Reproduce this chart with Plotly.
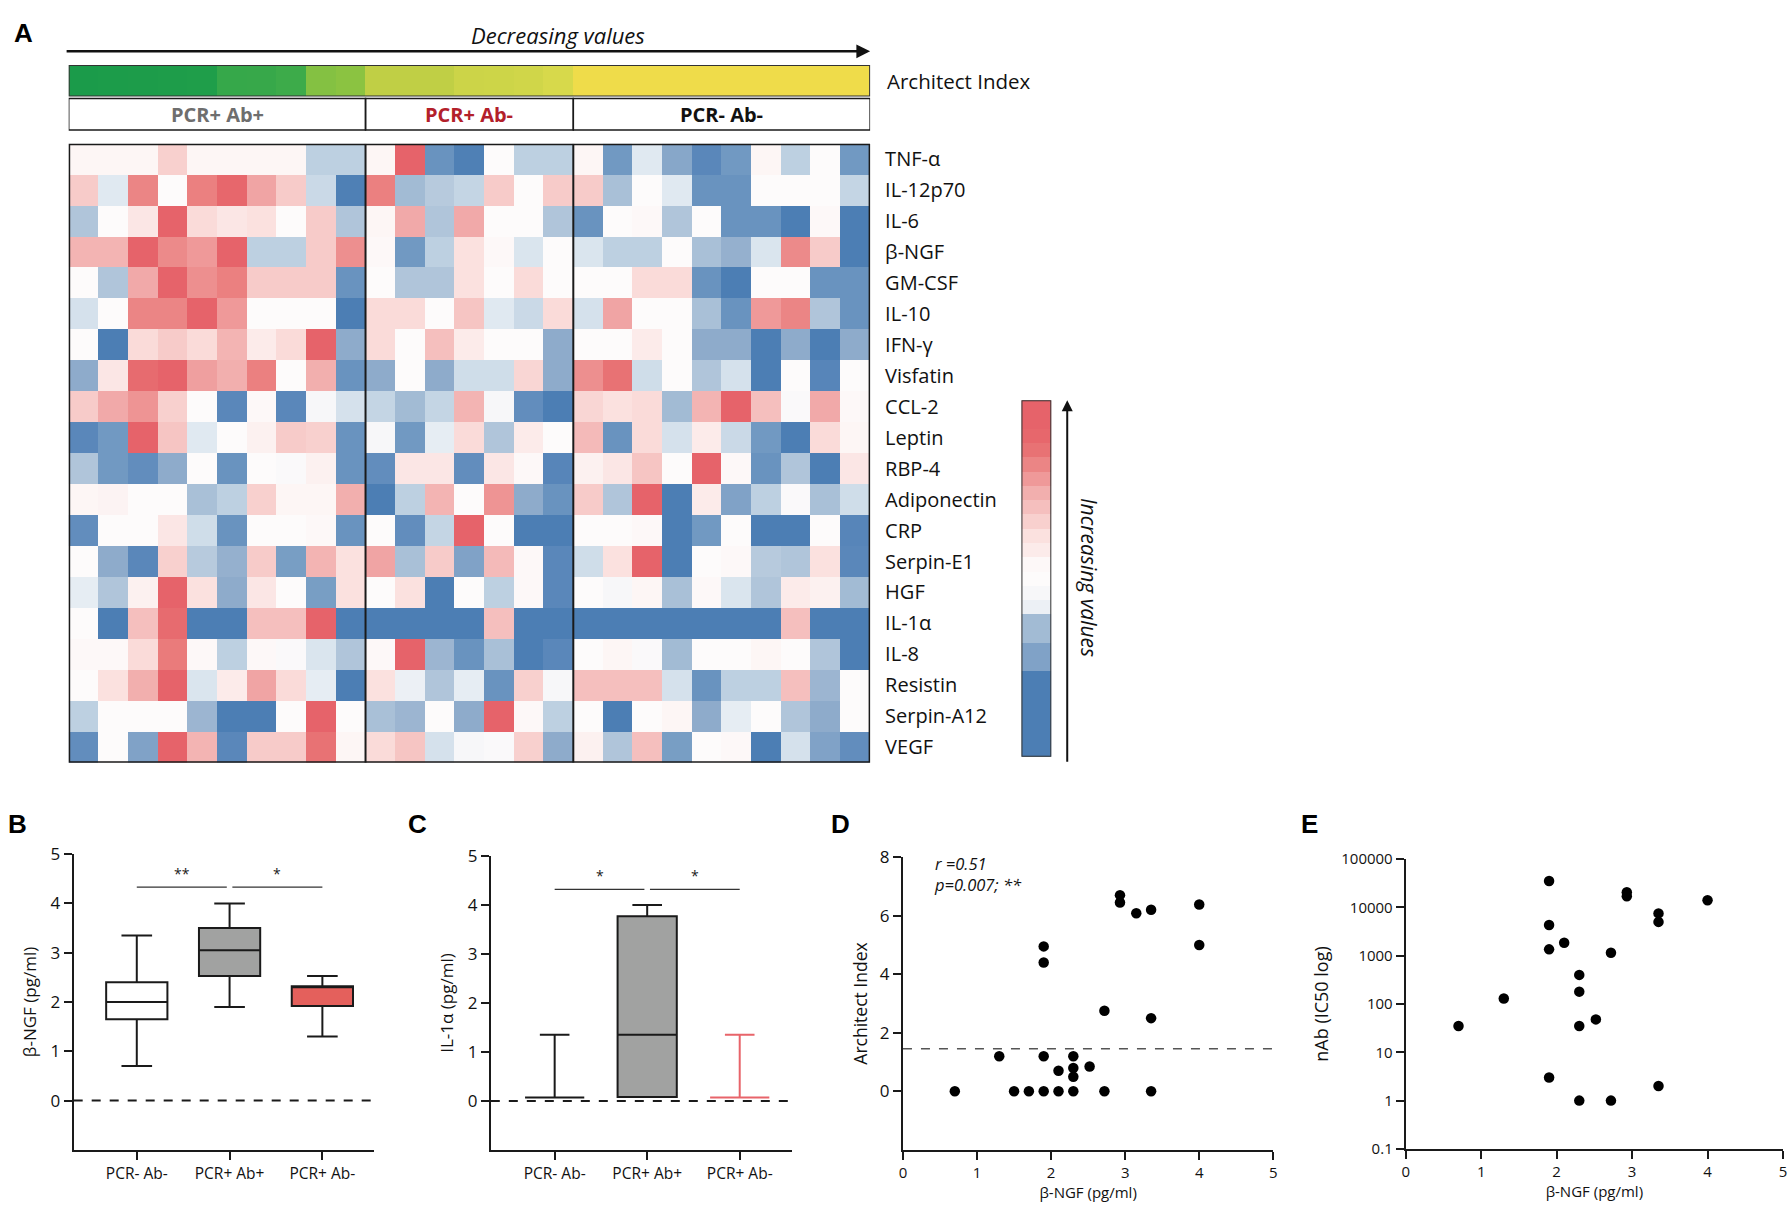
import numpy as np
import plotly.graph_objects as go

W, H = 1790, 1210
FONT = "Open Sans"

# ---------------- data: panel A heatmap ----------------
cytokines = ["TNF-α", "IL-12p70", "IL-6", "β-NGF", "GM-CSF", "IL-10", "IFN-γ", "Visfatin",
             "CCL-2", "Leptin", "RBP-4", "Adiponectin", "CRP", "Serpin-E1", "HGF", "IL-1α",
             "IL-8", "Resistin", "Serpin-A12", "VEGF"]

group_names = ["PCR+ Ab+", "PCR+ Ab-", "PCR- Ab-"]
group_colors = ["#6e6e6e", "#b3202a", "#111111"]

# z-scores per group (rows = cytokines, cols = patients)
pcr_pos_ab_pos = [
    [0.1, 0.1, 0.1, 0.8, 0.1, 0.1, 0.1, 0.1, -1.1, -1.1],
    [0.9, -0.5, 2.2, 0, 2.3, 2.9, 1.6, 0.9, -0.9, -2.9],
    [-1.3, 0, 0.4, 3, 0.6, 0.4, 0.5, 0, 0.9, -1.3],
    [1.3, 1.3, 3, 2.1, 1.8, 3, -1.1, -1.1, 0.9, 2.0],
    [0, -1.3, 1.5, 3, 2, 2.3, 0.9, 0.9, 0.9, -2.3],
    [-0.7, 0, 2.2, 2.2, 3, 1.8, 0, 0, 0, -3],
    [0, -3, 0.6, 0.9, 0.6, 1.3, 0.3, 0.6, 3, -1.8],
    [-1.8, 0.4, 2.8, 3, 1.7, 1.4, 2.3, 0, 1.4, -2.3],
    [0.9, 1.5, 1.9, 0.8, 0, -2.5, 0.05, -2.5, -0.1, -0.7],
    [-2.5, -2.2, 3, 1.0, -0.5, 0, 0.2, 0.9, 0.8, -2.3],
    [-1.3, -2.2, -2.4, -1.8, 0, -2.3, 0, -0.05, 0.2, -2.3],
    [0.1, 0.15, 0, 0, -1.4, -1.1, 0.8, 0.1, 0.1, 1.4],
    [-2.4, 0, 0, 0.4, -0.8, -2.3, 0, 0, 0.05, -2.3],
    [0, -1.8, -2.5, 0.8, -1.2, -1.7, 0.9, -2.1, 1.3, 0.5],
    [-0.4, -1.3, 0.2, 3, 0.5, -1.8, 0.4, 0, -2.1, 0.5],
    [0, -3, 1.1, 2.8, -3, -3, 1.1, 1.1, 3, -3],
    [0.05, 0.05, 0.6, 2.4, 0.05, -1.1, 0.05, -0.05, -0.6, -1.3],
    [0, 0.5, 1.4, 3, -0.6, 0.3, 1.6, 0.6, -0.4, -3],
    [-1.1, 0, 0, 0, -1.6, -3, -3, 0, 3, 0],
    [-2.4, 0, -2.0, 3, 1.3, -2.5, 0.9, 0.9, 2.6, 0.1],
]
pcr_pos_ab_neg = [
    [0.1, 3, -2.3, -2.9, 0, -1.1, -1.1],
    [2.3, -1.5, -1.2, -1.0, 0.9, 0, 0.9],
    [0.1, 1.5, -1.3, 1.5, 0, 0, -1.3],
    [0.05, -2.2, -1.1, 0.5, 0.05, -0.6, 0],
    [0, -1.3, -1.3, 0.5, 0, 0.6, 0],
    [0.6, 0.6, 0, 1.0, -0.5, -0.9, 0.6],
    [0.6, 0, 1.1, 0.3, 0, 0, -1.8],
    [-1.8, 0, -1.8, -0.8, -0.8, 0.7, -1.8],
    [-1.0, -1.5, -1.0, 1.3, -0.1, -2.4, -3],
    [-0.1, -2.2, -0.4, 0.6, -1.3, 0.3, 0],
    [-2.4, 0.4, 0.4, -2.4, 0.4, 0.05, -2.6],
    [-3, -1.1, 1.3, 0, 1.9, -1.8, -2.3],
    [0, -2.4, -1.0, 3, 0, -3, -3],
    [1.6, -1.4, 0.9, -2.0, 1.2, 0.05, -2.5],
    [0, 0.5, -3, 0, -1.1, 0.05, -2.5],
    [-3, -3, -3, -3, 1.1, -3, -3],
    [0.05, 3, -1.6, -2.3, -1.4, -3, -2.5],
    [0.5, -0.3, -1.3, -0.4, -2.3, 0.8, -0.1],
    [-1.4, -1.6, 0, -1.8, 3, 0.05, -1.1],
    [0.6, 1.0, -0.7, -0.1, -0.05, 0.8, -1.8],
]
pcr_neg_ab_neg = [
    [0.1, -2.2, -0.5, -1.9, -2.5, -2.2, 0.1, -1.1, 0, -2.2],
    [0.9, -1.4, 0, -0.5, -2.3, -2.3, 0, 0, 0, -1.0],
    [-2.3, 0, 0.05, -1.3, 0, -2.3, -2.3, -3, 0.05, -3],
    [-0.6, -1.1, -1.1, 0, -1.4, -1.7, -0.6, 2.1, 0.9, -3],
    [0, 0, 0.6, 0.6, -2.3, -3, 0, 0, -2.3, -2.3],
    [-0.7, 1.6, 0, 0, -1.4, -2.3, 1.8, 2.2, -1.3, -2.3],
    [0, 0, 0.3, 0, -1.8, -1.8, -3, -1.8, -3, -1.8],
    [2.0, 2.6, -0.8, 0, -1.3, -0.7, -3, 0, -2.6, 0],
    [0.7, 0.5, 0.6, -1.5, 1.3, 3, 1.1, -0.05, 1.5, 0.05],
    [1.2, -2.3, 0.6, -0.7, 0.3, -0.9, -2.2, -3, 0.6, 0.1],
    [0.2, 0.4, 1.0, 0, 3, 0.05, -2.3, -1.3, -3, 0.4],
    [0.9, -1.3, 3, -3, 0.3, -2.0, -1.1, -0.05, -1.4, -0.8],
    [0, 0, 0.05, -3, -2.2, 0, -3, -3, 0, -2.6],
    [-0.8, 0.5, 3, -3, 0, 0.05, -1.2, -1.3, 0.5, -2.5],
    [0, -0.1, 0.1, -1.4, 0.05, -0.6, -1.3, 0.3, 0.2, -1.5],
    [-3, -3, -3, -3, -3, -3, -3, 1.1, -3, -3],
    [0, 0.1, -0.05, -1.5, 0, 0, 0.1, 0, -1.3, -3],
    [1.1, 1.1, 1.1, -0.7, -2.3, -1.1, -1.1, 1.1, -1.6, 0],
    [0, -3, 0, 0.1, -1.8, -0.4, 0, -1.3, -1.8, 0],
    [0.2, -1.3, 1.1, -2.1, 0, 0.05, -3, -0.7, -2.0, -2.4],
]

# Architect index of each patient column (sorted, decreasing)
architect_index = [6.7, 6.45, 6.38, 6.2, 6.08, 5.0, 4.95, 4.4, 2.75, 2.5,
                   1.2, 1.2, 1.2, 0.85, 0.8, 0.7, 0.5,
                   0, 0, 0, 0, 0, 0, 0, 0, 0, 0]

# legend bar steps (bottom -> top)
legend_steps = [-3, -3, -3, -3, -3, -3, -2.0, -2.0, -1.5, -1.5, -0.3, -0.1, 0, 0.05,
                0.3, 0.5, 0.8, 1.1, 1.4, 1.8, 2.2, 2.6, 2.9, 3, 3]

# ---------------- data: panels B, C ----------------
box_groups = ["PCR- Ab-", "PCR+ Ab+", "PCR+ Ab-"]
ngf_low = [0.7, 1.9, 1.3]
ngf_q1 = [1.65, 2.53, 1.92]
ngf_median = [2.0, 3.05, 2.3]
ngf_q3 = [2.4, 3.5, 2.32]
ngf_high = [3.35, 4.0, 2.53]

il1a_low = [0.07, 0.08, 0.07]
il1a_q1 = [0.07, 0.08, 0.07]
il1a_median = [0.07, 1.35, 0.07]
il1a_q3 = [0.07, 3.77, 0.07]
il1a_high = [1.35, 4.0, 1.35]

# ---------------- data: panels D, E ----------------
d_ngf = [0.7, 1.3, 1.5, 1.7, 1.9, 1.9, 1.9, 1.9, 2.1, 2.1, 2.3, 2.3, 2.3, 2.3, 2.52,
         2.72, 2.72, 2.93, 2.93, 3.15, 3.35, 3.35, 3.35, 4.0, 4.0]
d_architect = [0, 1.2, 0, 0, 0, 1.2, 4.4, 4.95, 0, 0.7, 0, 0.5, 0.8, 1.2, 0.85,
               0, 2.75, 6.45, 6.7, 6.08, 6.2, 2.5, 0, 6.38, 5.0]
d_threshold = 1.45

e_ngf = [0.7, 1.3, 1.9, 1.9, 1.9, 1.9, 2.1, 2.3, 2.3, 2.3, 2.3, 2.52, 2.72, 2.72,
         2.93, 2.93, 3.35, 3.35, 3.35, 4.0]
e_nab = [35, 130, 35000, 4300, 1350, 3, 1850, 400, 180, 35, 1, 48, 1150, 1,
         20500, 17000, 7500, 5000, 2, 14000]


def px(x):
    return x / W


def py(y):
    return 1 - y / H


heat_z = np.hstack([np.array(pcr_pos_ab_pos), np.array(pcr_pos_ab_neg), np.array(pcr_neg_ab_neg)])
group_sizes = [len(pcr_pos_ab_pos[0]), len(pcr_pos_ab_neg[0]), len(pcr_neg_ab_neg[0])]
n_cols = heat_z.shape[1]
n_rows = heat_z.shape[0]

heat_scale = [
    [0.0, "#4c7eb4"], [0.083, "#5a87ba"], [0.133, "#7199c2"], [0.2, "#8eabcb"],
    [0.283, "#b0c5da"], [0.333, "#c4d5e4"], [0.417, "#e0e9f1"], [0.5, "#fdfbfb"],
    [0.583, "#fbe1df"], [0.667, "#f6c5c3"], [0.75, "#f1a9a9"], [0.833, "#ed8f8f"],
    [0.917, "#e97676"], [1.0, "#e6636a"],
]
arch_scale = [
    [0.0, "#efdc4a"], [0.07, "#d8d94b"], [0.18, "#c0cf45"], [0.37, "#8cc341"],
    [0.42, "#82c042"], [0.65, "#3dab4a"], [0.75, "#36a84a"], [0.9, "#1f9e4a"],
    [1.0, "#1b9b4a"],
]

fig = go.Figure()

fig.add_trace(go.Heatmap(
    z=heat_z, x=list(range(n_cols)), y=list(range(n_rows)),
    colorscale=heat_scale, zmin=-3, zmax=3, xaxis="x", yaxis="y", showscale=False,
    hovertemplate="%{z}<extra></extra>",
))

fig.add_trace(go.Heatmap(
    z=[architect_index], x=list(range(n_cols)), y=[0],
    colorscale=arch_scale, zmin=0, zmax=max(architect_index), showscale=False,
    xaxis="x2", yaxis="y2", hovertemplate="%{z}<extra></extra>",
))

# colour key
fig.add_trace(go.Heatmap(
    z=[[v] for v in legend_steps], x=[0], y=list(range(len(legend_steps))),
    colorscale=heat_scale, zmin=-3, zmax=3, showscale=False,
    xaxis="x7", yaxis="y7", hoverinfo="skip",
))

# panel B boxes
box_fill_b = ["white", "#a1a2a1", "#e4605c"]
for i in range(3):
    fig.add_trace(go.Box(
        x=[i], q1=[ngf_q1[i]], median=[ngf_median[i]], q3=[ngf_q3[i]],
        lowerfence=[ngf_low[i]], upperfence=[ngf_high[i]],
        width=0.66, whiskerwidth=0.5, fillcolor=box_fill_b[i],
        line=dict(color="#1a1a1a", width=2), boxpoints=False,
        xaxis="x3", yaxis="y3", showlegend=False,
    ))

# panel C boxes
box_fill_c = ["white", "#a1a2a1", "white"]
box_line_c = ["#1a1a1a", "#1a1a1a", "#e8646a"]
for i in range(3):
    fig.add_trace(go.Box(
        x=[i], q1=[il1a_q1[i]], median=[il1a_median[i]], q3=[il1a_q3[i]],
        lowerfence=[il1a_low[i]], upperfence=[il1a_high[i]],
        width=0.64, whiskerwidth=0.5, fillcolor=box_fill_c[i],
        line=dict(color=box_line_c[i], width=2), boxpoints=False,
        xaxis="x4", yaxis="y4", showlegend=False,
    ))

fig.add_trace(go.Scatter(
    x=d_ngf, y=d_architect, mode="markers",
    marker=dict(color="black", size=10.5), xaxis="x5", yaxis="y5", showlegend=False,
))
fig.add_trace(go.Scatter(
    x=e_ngf, y=e_nab, mode="markers",
    marker=dict(color="black", size=10.5), xaxis="x6", yaxis="y6", showlegend=False,
))

# ---------------- axes ----------------
hm_dom = [px(65), px(870)]
ax_common = dict(showgrid=False, zeroline=False, showline=True, linecolor="#1a1a1a",
                 linewidth=2, ticks="outside", ticklen=8, tickwidth=2, tickcolor="#1a1a1a",
                 tickfont=dict(size=17, color="#111"))
hidden = dict(showticklabels=False, showgrid=False, zeroline=False, ticks="", showline=False)

b_xrange = [-0.68, 2.56]
c_xrange = [-0.69, 2.57]

fig.update_layout(
    xaxis=dict(hidden, domain=hm_dom, range=[-0.5, n_cols - 0.5], anchor="y"),
    yaxis=dict(domain=[py(764), py(134)], range=[n_rows - 0.5, -0.5], anchor="x", side="right",
               tickvals=list(range(n_rows)), ticktext=cytokines, ticks="", showgrid=False,
               zeroline=False, ticklabelstandoff=14, tickfont=dict(size=20, color="#111")),
    xaxis2=dict(hidden, domain=hm_dom, range=[-0.5, n_cols - 0.5], anchor="y2"),
    yaxis2=dict(hidden, domain=[py(86), py(54)], range=[-0.5, 0.5], anchor="x2"),
    xaxis7=dict(hidden, domain=[px(1022), px(1052)], range=[-0.5, 0.5], anchor="y7"),
    yaxis7=dict(hidden, domain=[py(758), py(395)], range=[-0.5, len(legend_steps) - 0.5],
                anchor="x7"),
    xaxis3=dict(ax_common, domain=[px(70), px(372)], range=b_xrange, anchor="y3",
                tickvals=[0, 1, 2], ticktext=box_groups, tickfont=dict(size=15.5, color="#111")),
    yaxis3=dict(ax_common, domain=[py(1158), py(857)], range=[-1, 5], anchor="x3",
                tickvals=[0, 1, 2, 3, 4, 5],
                title=dict(text="β-NGF (pg/ml)", font=dict(size=17), standoff=10)),
    xaxis4=dict(ax_common, domain=[px(489), px(792)], range=c_xrange, anchor="y4",
                tickvals=[0, 1, 2], ticktext=box_groups, tickfont=dict(size=15.5, color="#111")),
    yaxis4=dict(ax_common, domain=[py(1158), py(859)], range=[-1, 5], anchor="x4",
                tickvals=[0, 1, 2, 3, 4, 5],
                title=dict(text="IL-1α (pg/ml)", font=dict(size=17), standoff=10)),
    xaxis5=dict(ax_common, domain=[px(903), px(1275)], range=[0, 5], anchor="y5",
                tickvals=[0, 1, 2, 3, 4, 5], tickfont=dict(size=15, color="#111"),
                title=dict(text="β-NGF (pg/ml)", font=dict(size=15), standoff=2)),
    yaxis5=dict(ax_common, domain=[py(1158), py(860)], range=[-2, 8], anchor="x5",
                tickvals=[0, 2, 4, 6, 8],
                title=dict(text="Architect Index", font=dict(size=17.5), standoff=8)),
    xaxis6=dict(ax_common, domain=[px(1408), px(1787)], range=[0, 5], anchor="y6",
                tickvals=[0, 1, 2, 3, 4, 5], tickfont=dict(size=15, color="#111"),
                title=dict(text="β-NGF (pg/ml)", font=dict(size=15), standoff=2)),
    yaxis6=dict(ax_common, domain=[py(1157), py(862)], type="log", range=[-1, 5], anchor="x6",
                tickvals=[0.1, 1, 10, 100, 1000, 10000, 100000],
                ticktext=["0.1", "1", "10", "100", "1000", "10000", "100000"],
                tickfont=dict(size=15, color="#111"),
                title=dict(text="nAb (IC50 log)", font=dict(size=18), standoff=8)),
)

# ---------------- shapes ----------------
shapes = []
# heatmap border and group separators
shapes.append(dict(type="rect", xref="x", yref="y", x0=-0.5, x1=n_cols - 0.5, y0=-0.5,
                   y1=n_rows - 0.5, line=dict(color="#1a1a1a", width=3)))
shapes.append(dict(type="rect", xref="x2", yref="y2", x0=-0.5, x1=n_cols - 0.5, y0=-0.5,
                   y1=0.5, line=dict(color="#333", width=2)))
shapes.append(dict(type="rect", xref="x7", yref="y7", x0=-0.5, x1=0.5, y0=-0.5,
                   y1=len(legend_steps) - 0.5, line=dict(color="#333", width=2)))
edges = np.cumsum([0] + group_sizes) - 0.5
for e in edges[1:-1]:
    shapes.append(dict(type="line", xref="x", yref="y", x0=e, x1=e, y0=-0.5, y1=n_rows - 0.5,
                       line=dict(color="#1a1a1a", width=2)))
for g in range(3):
    shapes.append(dict(type="rect", xref="x", yref="paper", x0=edges[g], x1=edges[g + 1],
                       y0=py(120), y1=py(88), line=dict(color="#1a1a1a", width=1.5)))

# zero lines in B and C, threshold in D
shapes.append(dict(type="line", xref="x3", yref="y3", x0=b_xrange[0], x1=b_xrange[1], y0=0, y1=0,
                   line=dict(color="#1a1a1a", width=2, dash="dash")))
shapes.append(dict(type="line", xref="x4", yref="y4", x0=c_xrange[0], x1=c_xrange[1], y0=0, y1=0,
                   line=dict(color="#1a1a1a", width=2, dash="dash")))
shapes.append(dict(type="line", xref="x5", yref="y5", x0=0, x1=5, y0=d_threshold, y1=d_threshold,
                   line=dict(color="#555", width=1.5, dash="dash")))

# significance brackets
sig_pairs = [(0, 0.97), (1.03, 2)]
sig_b = ["**", "*"]
sig_c = ["*", "*"]
annotations = []
for (ax_x, ax_y, labels, h) in [("x3", "y3", sig_b, 4.33), ("x4", "y4", sig_c, 4.32)]:
    for (a, b), lab in zip(sig_pairs, labels):
        shapes.append(dict(type="line", xref=ax_x, yref=ax_y, x0=a, x1=b, y0=h, y1=h,
                           line=dict(color="#333", width=1.2)))
        annotations.append(dict(x=(a + b) / 2, y=h + 0.05, xref=ax_x, yref=ax_y, text=lab,
                                showarrow=False, yanchor="bottom", font=dict(size=14, color="#1a1a1a")))

# ---------------- text ----------------
for letter, x, y in [("A", 8, 21), ("B", 2, 826), ("C", 404, 826), ("D", 829, 826), ("E", 1301, 826)]:
    annotations.append(dict(x=px(x), y=py(y), xref="paper", yref="paper", text=f"<b>{letter}</b>",
                            showarrow=False, xanchor="left", yanchor="middle",
                            font=dict(size=26, family="Liberation Sans", color="black")))

annotations.append(dict(x=(hm_dom[0] + hm_dom[1]) / 2, y=py(23), xref="paper", yref="paper",
                        text="<i>Decreasing values</i>", showarrow=False, yanchor="middle",
                        font=dict(size=22, color="#111")))
annotations.append(dict(x=px(870), y=py(40), xref="paper", yref="paper", text="", showarrow=True,
                        ax=-(870 - 65), ay=0, arrowhead=2, arrowsize=1.1, arrowwidth=2.5,
                        arrowcolor="#111"))
annotations.append(dict(x=px(885), y=py(70), xref="paper", yref="paper", text="Architect Index",
                        showarrow=False, xanchor="left", yanchor="middle",
                        font=dict(size=20.5, color="#111")))
for g in range(3):
    annotations.append(dict(x=(edges[g] + edges[g + 1]) / 2, y=py(104), xref="x", yref="paper",
                            text=f"<b>{group_names[g]}</b>", showarrow=False, yanchor="middle",
                            font=dict(size=20, color=group_colors[g])))

annotations.append(dict(x=px(1068), y=py(395), xref="paper", yref="paper", text="", showarrow=True,
                        ax=0, ay=758 - 395, arrowhead=2, arrowsize=1.1, arrowwidth=2,
                        arrowcolor="#111"))
annotations.append(dict(x=px(1090), y=py(575), xref="paper", yref="paper",
                        text="<i>Increasing values</i>", showarrow=False, textangle=90,
                        xanchor="center", yanchor="middle",
                        font=dict(size=21, color="#111")))

annotations.append(dict(x=0.39, y=7.43, xref="x5", yref="y5", showarrow=False, xanchor="left",
                        yanchor="middle", align="left", text="<i>r =0.51<br>p=0.007; **</i>",
                        font=dict(size=16.5, color="#111")))
annotations.append(dict(x=0.29, y=10 ** 4.67, xref="x6", yref="y6", showarrow=False, xanchor="left",
                        yanchor="middle", align="left", text="<i>r =0.37<br>p=0.07; ns</i>",
                        font=dict(size=16.5, color="#111")))

fig.update_layout(
    width=W, height=H, margin=dict(l=0, r=0, t=0, b=0),
    paper_bgcolor="white", plot_bgcolor="white",
    font=dict(family=FONT, color="#111"),
    shapes=shapes, annotations=annotations, showlegend=False,
)

# the page has a default body margin; drop it so the figure fills the window
fig.write_html("out.html", config={"displayModeBar": False},
               post_script="document.body.style.margin='0';")
